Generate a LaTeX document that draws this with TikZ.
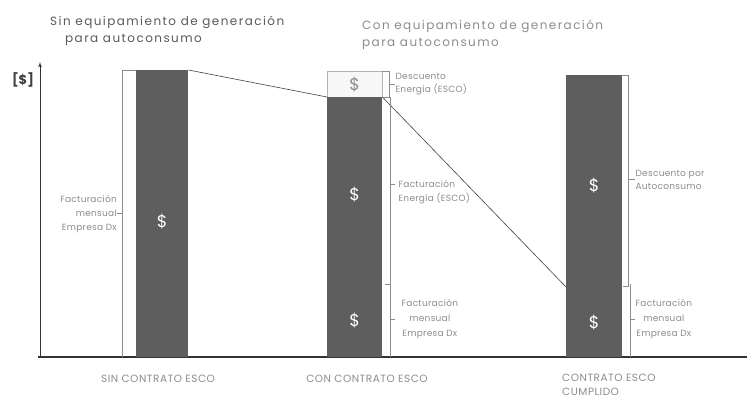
\documentclass[tikz,border=0pt]{standalone}
\usepackage{fontspec}
\setmainfont{Poppins}
\usetikzlibrary{arrows,positioning}
\definecolor{bargray}{HTML}{5E5E5E}
\definecolor{txtgray}{HTML}{8C8C8C}
\tikzstyle{barblock} = [fill=bargray, inner sep=0pt, anchor=north west]
\tikzstyle{discblock} = [draw=black!30, fill=black!3, inner sep=0pt, anchor=north west]
\tikzstyle{dollar} = [text=white, font=\fontsize{17}{17}\selectfont]
\tikzstyle{note} = [text=txtgray, font=\fontsize{9}{14}\selectfont\addfontfeature{LetterSpace=3}, inner sep=0pt]
\tikzstyle{caption} = [text=txtgray, font=\fontsize{10.5}{14}\selectfont\addfontfeature{LetterSpace=5}, inner sep=0pt]
\tikzstyle{title} = [text=black!65, font=\fontsize{12}{17}\selectfont\addfontfeature{LetterSpace=12}, inner sep=0pt, align=left, anchor=west]
\tikzstyle{bracket} = [draw, thin, color=black!45]
\tikzstyle{axis} = [draw, thick, color=black!80]
\tikzstyle{line} = [draw, semithick, color=black!75]
\newcommand{\barblock}[4]{node (#1) [barblock, minimum width=#3, minimum height=#4] at #2 {}}

\begin{document}
\begin{tikzpicture}[x=1pt,y=-1pt]
\useasboundingbox (0,0) rectangle (747,398);
% axes
\coordinate (o) at (40,357);
\coordinate (ytop) at (40,62);
\coordinate (xend) at (747,357);
\path [axis, -latex'] (o) -- (ytop);
\path [axis, line width=1.4pt] ([xshift=-2pt]o) -- (xend);
\node [font=\fontsize{13}{13}\selectfont\bfseries, text=black!75] (unit) at (23,80) {[\$]};

% titles
\node [title] (t1) at (50,31) {Sin equipamiento de generación\\\hspace*{15pt}para autoconsumo};
\node [title, text=black!45] (t2) at (362,35) {Con equipamiento de generación\\para autoconsumo};

% bars
\path \barblock{bar1}{(136,70)}{52pt}{287pt};
\path (327,71) node (bar2c) [discblock, minimum width=55pt, minimum height=26pt] {};
\path \barblock{bar2e}{(327,97)}{55pt}{187pt};
\path \barblock{bar2d}{(327,284)}{55pt}{73pt};
\path \barblock{bar3e}{(566,75)}{56pt}{209pt};
\path \barblock{bar3d}{(566,284)}{56pt}{73pt};

\node [dollar] (d1) at ([yshift=-8pt]bar1.center) {\$};
\node [dollar, text=black!45] (d2c) at (bar2c.center) {\$};
\node [dollar] (d2e) at ([yshift=-4pt]bar2e.center) {\$};
\node [dollar] (d2d) at (bar2d.center) {\$};
\node [dollar] (d3e) at ([yshift=-6pt]bar3e.center) {\$};
\node [dollar] (d3d) at ([yshift=-2pt]bar3d.center) {\$};

% connecting lines
\path [line] (bar1.north east) -- (bar2e.north west);
\path [line] (bar2e.north east) -- ([yshift=-3pt]bar3d.north west);

% bar 1 bracket
\coordinate (b1) at ([xshift=-14pt]bar1.west);
\path [bracket] (bar1.north west) -- ([xshift=-14pt]bar1.north west) -- ([xshift=-14pt]bar1.south west);
\node [note, align=right, anchor=east] (n1) at ([xshift=-5pt]b1) {Facturación\\mensual\\Empresa Dx};
\path [bracket] (n1.east) -- (b1);

% bar 2 brackets
\coordinate (b2c) at ([xshift=7pt]bar2c.east);
\path [bracket] (bar2c.north east) -- ([xshift=7pt]bar2c.north east) -- ([xshift=7pt]bar2c.south east) -- (bar2c.south east);
\node [note, align=left, anchor=west, font=\fontsize{9}{12.5}\selectfont\addfontfeature{LetterSpace=3}] (n2c) at ([xshift=6pt]b2c) {Descuento\\Energía (ESCO)};
\path [bracket] (b2c) -- (n2c.west);

\coordinate (b2e) at ([xshift=8pt,yshift=6pt]bar2e.east);
\path [bracket] (bar2e.north east) -- ([xshift=8pt]bar2e.north east) -- ([xshift=8pt]bar2e.south east) -- ([xshift=3pt]bar2e.south east);
\node [note, align=left, anchor=west] (n2e) at ([xshift=8pt,yshift=-7pt]b2e) {Facturación\\Energía (ESCO)};
\path [bracket] (b2e) -- ++(5,0);

\coordinate (b2d) at ([xshift=8pt,yshift=2pt]bar2d.east);
\path [bracket] ([xshift=8pt]bar2d.north east) -- ([xshift=8pt]bar2d.south east);
\node [note, align=center, anchor=west, font=\fontsize{9}{15}\selectfont\addfontfeature{LetterSpace=3}] (n2d) at ([xshift=11pt]b2d) {Facturación\\mensual\\Empresa Dx};
\path [bracket] (b2d) -- ++(5,0);

% bar 3 brackets
\coordinate (b3e) at ([xshift=6pt]bar3e.east);
\path [bracket] (bar3e.north east) -- ([xshift=6pt]bar3e.north east) -- ([xshift=6pt,yshift=-2pt]bar3e.south east) -- ([xshift=1pt,yshift=-2pt]bar3e.south east);
\node [note, align=left, anchor=west, font=\fontsize{9}{12.5}\selectfont\addfontfeature{LetterSpace=3}] (n3e) at ([xshift=7pt]b3e) {Descuento por\\Autoconsumo};
\path [bracket] (b3e) -- (n3e.west);

\coordinate (b3d) at ([xshift=8pt,yshift=2pt]bar3d.east);
\path [bracket] ([xshift=8pt]bar3d.north east) -- ([xshift=8pt]bar3d.south east);
\node [note, align=center, anchor=west, font=\fontsize{9}{15}\selectfont\addfontfeature{LetterSpace=3}] (n3d) at ([xshift=5pt]b3d) {Facturación\\mensual\\Empresa Dx};
\path [bracket] (b3d) -- ++(5,0);

% categories
\node [caption] (c1) at (158,379) {SIN CONTRATO ESCO};
\node [caption] (c2) at (367,379) {CON CONTRATO ESCO};
\node [caption, align=left, anchor=north west] (c3) at (562,374) {CONTRATO ESCO\\CUMPLIDO};
\end{tikzpicture}
\end{document}
